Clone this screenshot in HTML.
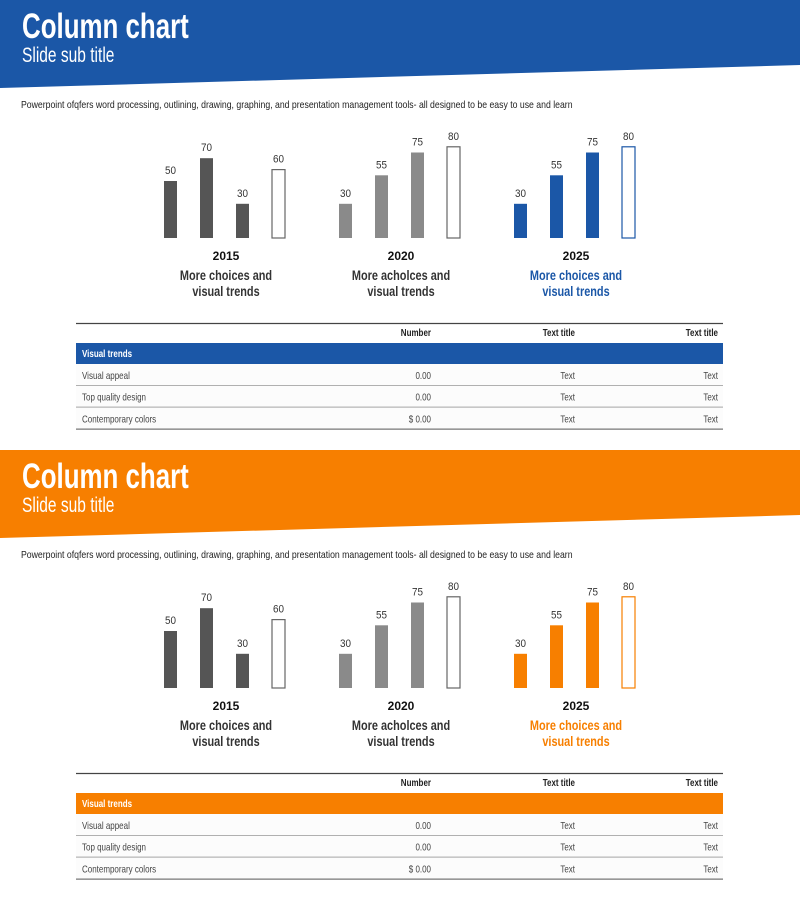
<!DOCTYPE html>
<html><head><meta charset="utf-8">
<style>
html,body{margin:0;padding:0;background:#fff;}
body{width:800px;height:900px;position:relative;overflow:hidden;font-family:"Liberation Sans",sans-serif;}
svg{position:absolute;left:0;top:0;}
</style></head>
<body>
<svg id="chart" width="800" height="900" viewBox="0 0 800 900"></svg>
<script>
const years = ["2015","2020","2025"];
const values2015 = [50,70,30,60];
const values2020 = [30,55,75,80];
const values2025 = [30,55,75,80];
const captionsLine1 = ["More choices and","More acholces and","More choices and"];
const captionsLine2 = ["visual trends","visual trends","visual trends"];
const rowLabels = ["Visual appeal","Top quality design","Contemporary  colors"];
const rowNumbers = ["0.00","0.00","$ 0.00"];
const rowText1 = ["Text","Text","Text"];
const rowText2 = ["Text","Text","Text"];
const themes = ["#1b57a7","#f77f00"];

const NS="http://www.w3.org/2000/svg";
const svg=document.getElementById('chart');
function el(tag,attrs,parent,text){const e=document.createElementNS(NS,tag);for(const k in attrs)e.setAttribute(k,attrs[k]);if(text!==undefined)e.textContent=text;(parent||svg).appendChild(e);return e;}
function txt(x,y,sx,attrs,parent,text){const a=Object.assign({x:0,y:0,transform:`translate(${x},${y}) scale(${sx},1)`},attrs);return el('text',a,parent,text);}
const baseY=238, pxPerUnit=1.14;
function yScale(v){return baseY - v*pxPerUnit;}
function xBar(g,i){return 164 + g*175 + i*36;}
const allValues=[values2015,values2020,values2025];

themes.forEach((color,s)=>{
  const oy=s*450;
  const g=el('g',{transform:`translate(0,${oy})`});
  
  
  const hdr=el('polygon',{points:"0,0 800,0 800,65 0,88",fill:color},g);
  
  const t=txt(22,38,0.74,{fill:'#fff','font-size':35,'font-weight':'bold'},g,'Column chart');
  
  const st=txt(22,62,0.74,{fill:'#fff','font-size':21},g,'Slide sub title');
  
  const d=txt(21,108,0.87,{fill:'#222','font-size':10},g,'Powerpoint ofqfers word processing, outlining, drawing, graphing, and presentation management tools- all designed to be easy to use and learn');
  
  allValues.forEach((vals,gi)=>{
    vals.forEach((v,i)=>{
      const x=xBar(gi,i), y=yScale(v);
      let fill, stroke='none';
      if(i===3){fill='#fff';stroke= gi===2?color:'#666';}
      else if(gi===0)fill='#555';
      else if(gi===1)fill='#8a8a8a';
      else fill=color;
      const r=el('rect',{x:x,y:y,width:13,height:baseY-y,fill:fill,stroke:stroke,'stroke-width':1.2},g);
      
      const l=txt(x+6.5,y-7,0.9,{'text-anchor':'middle','font-size':11,fill:'#333'},g,String(v));
      
    });
    const cx=xBar(gi,0)+62;
    const yl=el('text',{x:cx,y:260,'text-anchor':'middle','font-size':12,'font-weight':'bold',fill:'#111'},g,years[gi]);
    
    const cc=gi===2?color:'#333';
    const c1=txt(cx,280,0.78,{'text-anchor':'middle','font-size':14,'font-weight':'bold',fill:cc},g,captionsLine1[gi]);
    
    const c2=txt(cx,296,0.78,{'text-anchor':'middle','font-size':14,'font-weight':'bold',fill:cc},g,captionsLine2[gi]);
    
  });
  const tb=el('g',{},g);
  el('line',{x1:76,x2:723,y1:323.5,y2:323.5,stroke:'#444','stroke-width':1.3},tb);
  [['Number',431],['Text title',575],['Text title',718]].forEach(([h,x])=>{
    const ht=txt(x,336,0.8,{'text-anchor':'end','font-size':10,'font-weight':'bold',fill:'#222'},tb,h);
    
  });
  const band=el('rect',{x:76,y:343,width:647,height:21,fill:color},tb);
  
  const bt=txt(82,357,0.8,{'font-size':10,'font-weight':'bold',fill:'#fff'},tb,'Visual trends');
  
  rowLabels.forEach((lab,r)=>{
    const ry=364+r*21.7;
    const rr=el('rect',{x:76,y:ry,width:647,height:21.7,fill:'#fcfcfc'},tb);
    
    el('line',{x1:76,x2:723,y1:ry+21.7,y2:ry+21.7,stroke:'#777','stroke-width':1.2},tb);
    const ty=ry+15;
    const a=txt(82,ty,0.8,{'font-size':10,fill:'#444'},tb,lab);
    
    const b=txt(431,ty,0.8,{'text-anchor':'end','font-size':10,fill:'#444'},tb,rowNumbers[r]);
    
    const c=txt(575,ty,0.8,{'text-anchor':'end','font-size':10,fill:'#444'},tb,rowText1[r]);
    
    const e=txt(718,ty,0.8,{'text-anchor':'end','font-size':10,fill:'#444'},tb,rowText2[r]);
    
  });
});
</script>
</body></html>
